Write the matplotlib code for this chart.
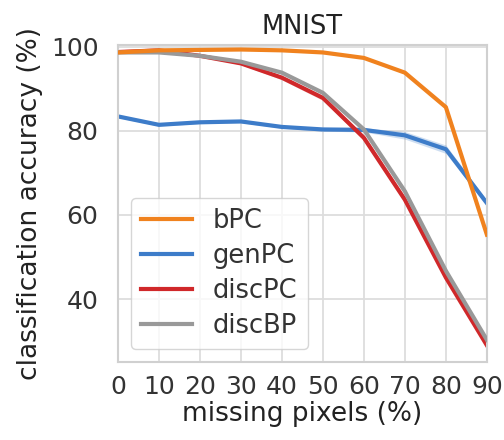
import matplotlib
matplotlib.use("Agg")
import matplotlib.pyplot as plt
import numpy as np

# missing pixel fraction (%) and test accuracy (%) per model
missing = [0, 10, 20, 30, 40, 50, 60, 70, 80, 90]
acc_bpc = [98.6, 99.1, 99.2, 99.3, 99.1, 98.6, 97.3, 93.8, 85.6, 55.3]
acc_genpc = [83.4, 81.4, 82.0, 82.2, 80.9, 80.3, 80.2, 78.9, 75.6, 62.8]
acc_discpc = [98.7, 99.1, 97.8, 96.0, 92.6, 87.8, 78.3, 63.6, 45.1, 29.0]
acc_discbp = [98.6, 98.6, 97.8, 96.4, 93.8, 89.0, 80.3, 65.6, 46.7, 30.3]

# spread over seeds
std_bpc = [0.1, 0.1, 0.1, 0.1, 0.1, 0.1, 0.2, 0.3, 0.5, 0.8]
std_genpc = [0.3, 0.3, 0.3, 0.3, 0.3, 0.4, 0.5, 0.9, 1.0, 0.6]
std_discpc = [0.1, 0.1, 0.2, 0.3, 0.5, 0.6, 0.6, 0.6, 0.5, 0.4]
std_discbp = [0.1, 0.1, 0.1, 0.2, 0.3, 0.3, 0.4, 0.4, 0.4, 0.3]

series = [
    ("bPC", acc_bpc, std_bpc, "#f0821e", 4),
    ("genPC", acc_genpc, std_genpc, "#3d7cc9", 2),
    ("discPC", acc_discpc, std_discpc, "#d0282a", 2),
    ("discBP", acc_discbp, std_discbp, "#999999", 3),
]

plt.rcParams["font.family"] = "DejaVu Sans"

fig = plt.figure(figsize=(5.04, 4.4), dpi=100)
ax = fig.add_axes([0.234, 0.177, 0.732, 0.721])

x = np.array(missing)
for name, m, s, c, z in series:
    m = np.array(m)
    s = np.array(s)
    ax.fill_between(x, m - s, m + s, color=c, alpha=0.25, lw=0, zorder=z)
    ax.plot(x, m, color=c, lw=3, label=name, zorder=z)

ax.set_xlim(0, 90)
ax.set_ylim(25, 100.4)
ax.set_xticks(missing)
ax.set_yticks([40, 60, 80, 100])
ax.grid(True, color="#dddddd", lw=1.3)
ax.set_axisbelow(True)
for sp in ax.spines.values():
    sp.set_color("#d0d0d0")
    sp.set_linewidth(1.5)
ax.tick_params(length=0, labelsize=18, colors="#333333")
ax.tick_params(axis="y", pad=14)
ax.tick_params(axis="x", pad=9)

ax.set_title("MNIST", fontsize=18.5, color="#222222", pad=8)
ax.set_xlabel("missing pixels (%)", fontsize=19, color="#222222", labelpad=2)
ax.set_ylabel("classification accuracy (%)", fontsize=19, color="#222222", labelpad=6)

leg = ax.legend(loc="lower left", fontsize=18.5, frameon=True, fancybox=True,
                handlelength=2.0, borderaxespad=0.5, labelspacing=0.35)
leg.get_frame().set_edgecolor("#cccccc")
leg.get_frame().set_alpha(0.8)
for t in leg.get_texts():
    t.set_color("#333333")

fig.savefig("out.png", dpi=100)
